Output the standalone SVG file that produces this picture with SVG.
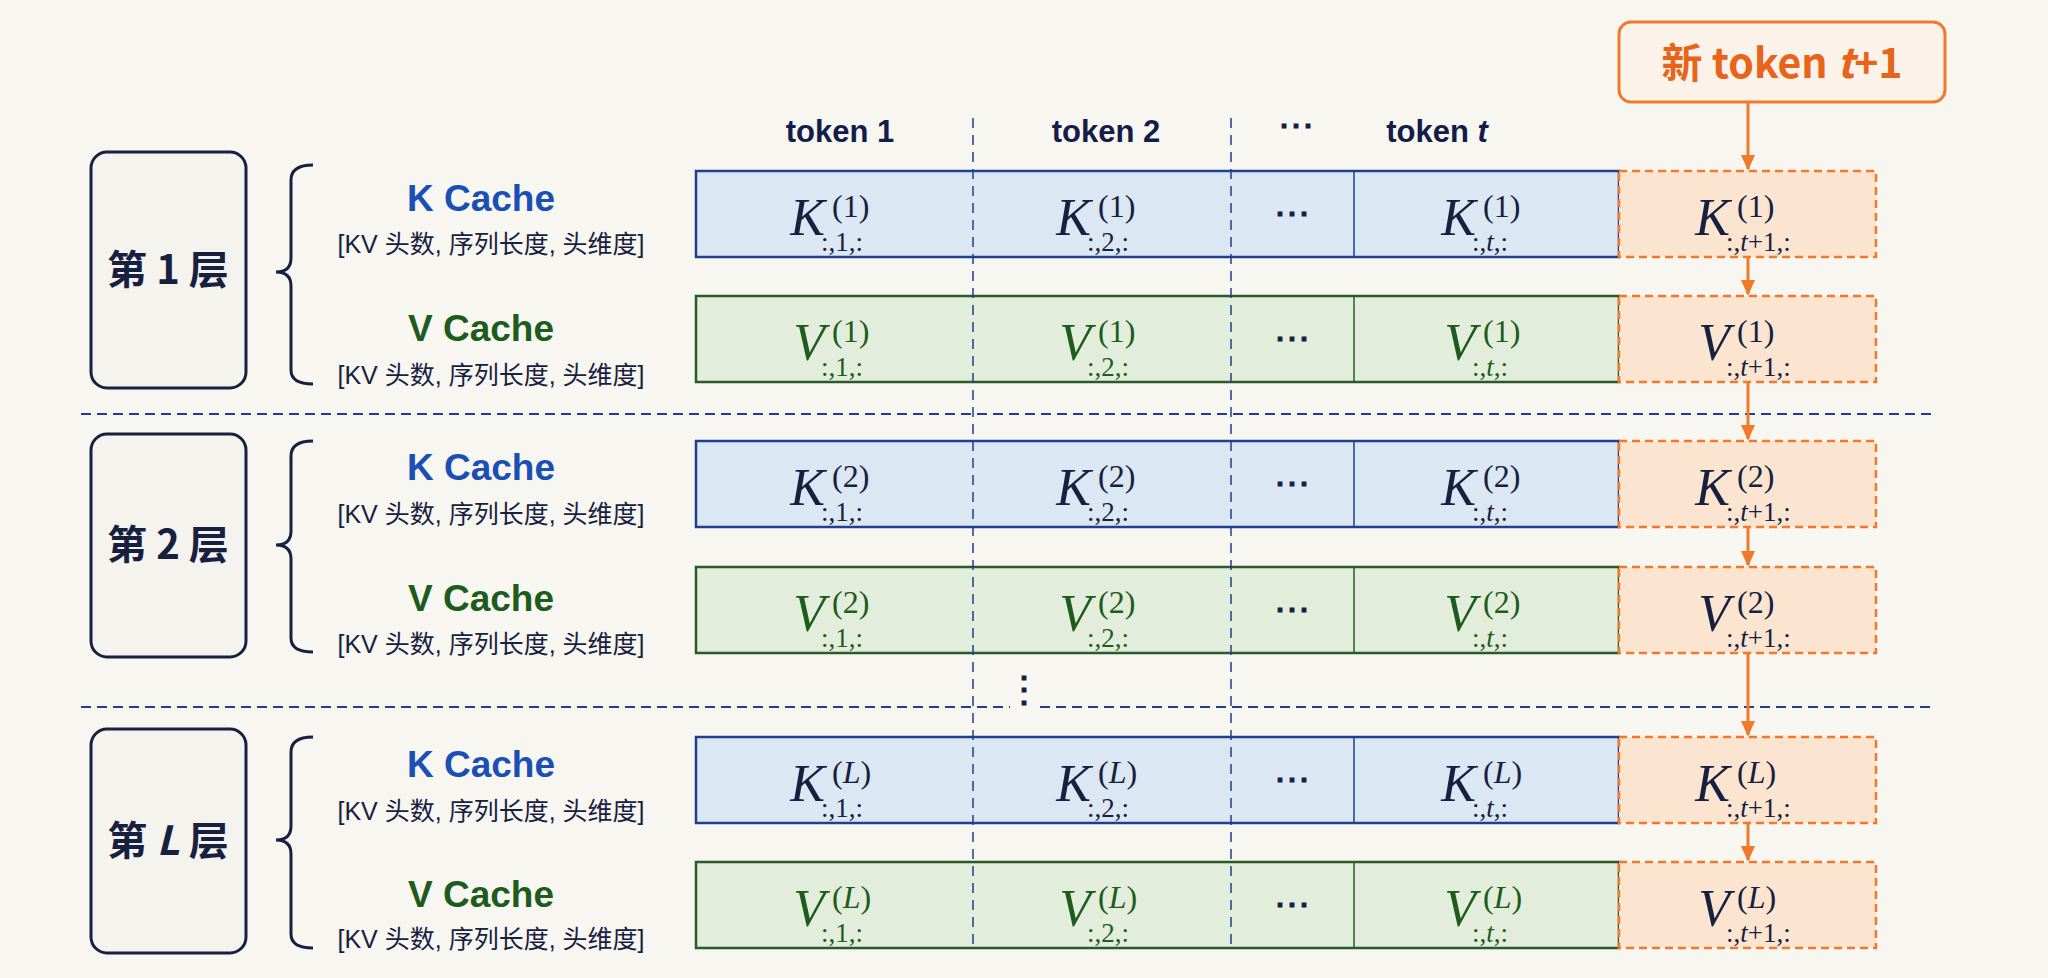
<svg xmlns="http://www.w3.org/2000/svg" width="2048" height="978" viewBox="0 0 2048 978">
<defs>
<style>
.bg{fill:#f8f6f1}
.layer{fill:#f5f3ee;stroke:#17213f;stroke-width:3}
.lt{font-family:"Noto Sans CJK SC","Liberation Sans",sans-serif;font-weight:700;font-size:40px;fill:#17213f;text-anchor:middle}
.brace{fill:none;stroke:#17213f;stroke-width:3}
.kc{font-family:"Liberation Sans",sans-serif;font-weight:700;font-size:37px;fill:#1a4fb4;text-anchor:middle}
.vc{font-family:"Liberation Sans",sans-serif;font-weight:700;font-size:37px;fill:#1e5c1e;text-anchor:middle}
.sub{font-family:"Liberation Sans","Noto Sans CJK SC",sans-serif;font-size:25px;fill:#17213f;text-anchor:middle}
.hd{font-family:"Liberation Sans",sans-serif;font-weight:700;font-size:31px;fill:#141c48;text-anchor:middle}
.krow{fill:#dce7f4;stroke:#1f3f8f;stroke-width:2.5}
.vrow{fill:#e3eddb;stroke:#2a5a2a;stroke-width:2.5}
.orow{fill:#fbe5d0;stroke:#f07a2a;stroke-width:2.5;stroke-dasharray:8 5}
.kdiv{stroke:#1f3f8f;stroke-width:1.5}
.vdiv{stroke:#2a5a2a;stroke-width:1.5}
.vdash{stroke:#1f3f8f;stroke-width:1.5;stroke-dasharray:10 7;fill:none}
.hdash{stroke:#1f3f8f;stroke-width:2;stroke-dasharray:10 6;fill:none}
.m{font-family:"Liberation Serif",serif;font-style:italic;font-size:52px}
.km{fill:#17213f}
.vm{fill:#1e5c1e}
.sp{font-family:"Liberation Serif",serif;font-size:32px}
.sb{font-family:"Liberation Serif",serif;font-size:27px}
.dots{font-family:"Liberation Serif",serif;font-size:36px;font-weight:700;fill:#17213f;text-anchor:middle}
.arr{stroke:#f07a2a;stroke-width:3;fill:none}
.new{fill:#fbf3ea;stroke:#f07a2a;stroke-width:3}
.nt{font-family:"Noto Sans CJK SC","Liberation Sans",sans-serif;font-weight:700;font-size:41px;fill:#e8641a;text-anchor:middle}
</style>
<marker id="ah" markerWidth="16" markerHeight="18" refX="16" refY="8" orient="auto" markerUnits="userSpaceOnUse" viewBox="0 0 18 16">
<path d="M0,0 L18,8 L0,16 z" fill="#f07a2a"/>
</marker>
</defs>
<rect class="bg" width="2048" height="978"/>

<g id="headers">
<text class="hd" x="840" y="142">token 1</text>
<text class="hd" x="1106" y="142">token 2</text>
<text class="dots" x="1296" y="138">⋯</text>
<text class="hd" x="1437" y="142">token <tspan font-style="italic">t</tspan></text>
</g>

<g id="new-token">
<rect class="new" x="1619" y="22" width="326" height="80" rx="12"/>
<text class="nt" x="1782" y="78">新 token <tspan font-style="italic">t</tspan>+1</text>
</g>

<g id="separators">
<line class="hdash" x1="81" y1="414" x2="1936" y2="414"/>
<line class="hdash" x1="81" y1="707" x2="1010" y2="707"/>
<line class="hdash" x1="1040" y1="707" x2="1936" y2="707"/>
<text class="dots" x="1024" y="702" font-size="44">⋮</text>
</g>

<g id="rows">
<rect class="krow" x="696" y="171" width="923" height="86"/>
<rect class="vrow" x="696" y="296" width="923" height="86"/>
<rect class="krow" x="696" y="441" width="923" height="86"/>
<rect class="vrow" x="696" y="567" width="923" height="86"/>
<rect class="krow" x="696" y="737" width="923" height="86"/>
<rect class="vrow" x="696" y="862" width="923" height="86"/>
<line class="kdiv" x1="1354" y1="171" x2="1354" y2="257"/>
<line class="vdiv" x1="1354" y1="296" x2="1354" y2="382"/>
<line class="kdiv" x1="1354" y1="441" x2="1354" y2="527"/>
<line class="vdiv" x1="1354" y1="567" x2="1354" y2="653"/>
<line class="kdiv" x1="1354" y1="737" x2="1354" y2="823"/>
<line class="vdiv" x1="1354" y1="862" x2="1354" y2="948"/>
<rect class="orow" x="1619" y="171" width="257" height="86"/>
<rect class="orow" x="1619" y="296" width="257" height="86"/>
<rect class="orow" x="1619" y="441" width="257" height="86"/>
<rect class="orow" x="1619" y="567" width="257" height="86"/>
<rect class="orow" x="1619" y="737" width="257" height="86"/>
<rect class="orow" x="1619" y="862" width="257" height="86"/>
<line class="vdash" x1="973" y1="118" x2="973" y2="948"/>
<line class="vdash" x1="1231" y1="118" x2="1231" y2="948"/>
</g>

<g id="layer1">
<rect class="layer" x="91" y="152" width="155" height="236" rx="16"/>
<text class="lt" x="168" y="284">第 1 层</text>
<path class="brace" d="M313 165 Q291 165 291 180 L291 258 Q291 272 276 272 Q291 272 291 286 L291 370 Q291 384 313 384"/>
<text class="kc" x="481" y="211">K Cache</text>
<text class="sub" x="491" y="253">[KV 头数, 序列长度, 头维度]</text>
<text class="vc" x="481" y="341">V Cache</text>
<text class="sub" x="491" y="384">[KV 头数, 序列长度, 头维度]</text>
</g>
<g id="layer2">
<rect class="layer" x="91" y="434" width="155" height="223" rx="16"/>
<text class="lt" x="168" y="559">第 2 层</text>
<path class="brace" d="M313 441 Q291 441 291 456 L291 531 Q291 545 276 545 Q291 545 291 559 L291 638 Q291 652 313 652"/>
<text class="kc" x="481" y="480">K Cache</text>
<text class="sub" x="491" y="523">[KV 头数, 序列长度, 头维度]</text>
<text class="vc" x="481" y="611">V Cache</text>
<text class="sub" x="491" y="653">[KV 头数, 序列长度, 头维度]</text>
</g>
<g id="layerL">
<rect class="layer" x="91" y="729" width="155" height="224" rx="16"/>
<text class="lt" x="168" y="855">第 <tspan font-style="italic">L</tspan> 层</text>
<path class="brace" d="M313 737 Q291 737 291 752 L291 826 Q291 840 276 840 Q291 840 291 854 L291 934 Q291 948 313 948"/>
<text class="kc" x="481" y="777">K Cache</text>
<text class="sub" x="491" y="820">[KV 头数, 序列长度, 头维度]</text>
<text class="vc" x="481" y="907">V Cache</text>
<text class="sub" x="491" y="948">[KV 头数, 序列长度, 头维度]</text>
</g>

<g id="cells1">
<g transform="translate(835,171)" class="km"><text class="m" x="-10" y="64" text-anchor="end">K</text><text class="sp" x="-3" y="46">(1)</text><text class="sb" x="-14" y="80">:,1,:</text></g>
<g transform="translate(1101,171)" class="km"><text class="m" x="-10" y="64" text-anchor="end">K</text><text class="sp" x="-3" y="46">(1)</text><text class="sb" x="-14" y="80">:,2,:</text></g>
<text class="dots" x="1292" y="226">⋯</text>
<g transform="translate(1486,171)" class="km"><text class="m" x="-10" y="64" text-anchor="end">K</text><text class="sp" x="-3" y="46">(1)</text><text class="sb" x="-14" y="80">:,<tspan font-style="italic">t</tspan>,:</text></g>
<g transform="translate(1747,171)" class="km"><text class="m" x="-17" y="64" text-anchor="end">K</text><text class="sp" x="-10" y="46">(1)</text><text class="sb" x="-21" y="80">:,<tspan font-style="italic">t</tspan>+1,:</text></g>

<g transform="translate(835,296)" class="vm"><text class="m" x="-10" y="64" text-anchor="end">V</text><text class="sp" x="-3" y="46">(1)</text><text class="sb" x="-14" y="80">:,1,:</text></g>
<g transform="translate(1101,296)" class="vm"><text class="m" x="-10" y="64" text-anchor="end">V</text><text class="sp" x="-3" y="46">(1)</text><text class="sb" x="-14" y="80">:,2,:</text></g>
<text class="dots" x="1292" y="351">⋯</text>
<g transform="translate(1486,296)" class="vm"><text class="m" x="-10" y="64" text-anchor="end">V</text><text class="sp" x="-3" y="46">(1)</text><text class="sb" x="-14" y="80">:,<tspan font-style="italic">t</tspan>,:</text></g>
<g transform="translate(1747,296)" class="km"><text class="m" x="-17" y="64" text-anchor="end">V</text><text class="sp" x="-10" y="46">(1)</text><text class="sb" x="-21" y="80">:,<tspan font-style="italic">t</tspan>+1,:</text></g>
</g>

<g id="cells2">
<g transform="translate(835,441)" class="km"><text class="m" x="-10" y="64" text-anchor="end">K</text><text class="sp" x="-3" y="46">(2)</text><text class="sb" x="-14" y="80">:,1,:</text></g>
<g transform="translate(1101,441)" class="km"><text class="m" x="-10" y="64" text-anchor="end">K</text><text class="sp" x="-3" y="46">(2)</text><text class="sb" x="-14" y="80">:,2,:</text></g>
<text class="dots" x="1292" y="496">⋯</text>
<g transform="translate(1486,441)" class="km"><text class="m" x="-10" y="64" text-anchor="end">K</text><text class="sp" x="-3" y="46">(2)</text><text class="sb" x="-14" y="80">:,<tspan font-style="italic">t</tspan>,:</text></g>
<g transform="translate(1747,441)" class="km"><text class="m" x="-17" y="64" text-anchor="end">K</text><text class="sp" x="-10" y="46">(2)</text><text class="sb" x="-21" y="80">:,<tspan font-style="italic">t</tspan>+1,:</text></g>

<g transform="translate(835,567)" class="vm"><text class="m" x="-10" y="64" text-anchor="end">V</text><text class="sp" x="-3" y="46">(2)</text><text class="sb" x="-14" y="80">:,1,:</text></g>
<g transform="translate(1101,567)" class="vm"><text class="m" x="-10" y="64" text-anchor="end">V</text><text class="sp" x="-3" y="46">(2)</text><text class="sb" x="-14" y="80">:,2,:</text></g>
<text class="dots" x="1292" y="622">⋯</text>
<g transform="translate(1486,567)" class="vm"><text class="m" x="-10" y="64" text-anchor="end">V</text><text class="sp" x="-3" y="46">(2)</text><text class="sb" x="-14" y="80">:,<tspan font-style="italic">t</tspan>,:</text></g>
<g transform="translate(1747,567)" class="km"><text class="m" x="-17" y="64" text-anchor="end">V</text><text class="sp" x="-10" y="46">(2)</text><text class="sb" x="-21" y="80">:,<tspan font-style="italic">t</tspan>+1,:</text></g>
</g>

<g id="cellsL">
<g transform="translate(835,737)" class="km"><text class="m" x="-10" y="64" text-anchor="end">K</text><text class="sp" x="-3" y="46">(<tspan font-style="italic">L</tspan>)</text><text class="sb" x="-14" y="80">:,1,:</text></g>
<g transform="translate(1101,737)" class="km"><text class="m" x="-10" y="64" text-anchor="end">K</text><text class="sp" x="-3" y="46">(<tspan font-style="italic">L</tspan>)</text><text class="sb" x="-14" y="80">:,2,:</text></g>
<text class="dots" x="1292" y="792">⋯</text>
<g transform="translate(1486,737)" class="km"><text class="m" x="-10" y="64" text-anchor="end">K</text><text class="sp" x="-3" y="46">(<tspan font-style="italic">L</tspan>)</text><text class="sb" x="-14" y="80">:,<tspan font-style="italic">t</tspan>,:</text></g>
<g transform="translate(1747,737)" class="km"><text class="m" x="-17" y="64" text-anchor="end">K</text><text class="sp" x="-10" y="46">(<tspan font-style="italic">L</tspan>)</text><text class="sb" x="-21" y="80">:,<tspan font-style="italic">t</tspan>+1,:</text></g>

<g transform="translate(835,862)" class="vm"><text class="m" x="-10" y="64" text-anchor="end">V</text><text class="sp" x="-3" y="46">(<tspan font-style="italic">L</tspan>)</text><text class="sb" x="-14" y="80">:,1,:</text></g>
<g transform="translate(1101,862)" class="vm"><text class="m" x="-10" y="64" text-anchor="end">V</text><text class="sp" x="-3" y="46">(<tspan font-style="italic">L</tspan>)</text><text class="sb" x="-14" y="80">:,2,:</text></g>
<text class="dots" x="1292" y="917">⋯</text>
<g transform="translate(1486,862)" class="vm"><text class="m" x="-10" y="64" text-anchor="end">V</text><text class="sp" x="-3" y="46">(<tspan font-style="italic">L</tspan>)</text><text class="sb" x="-14" y="80">:,<tspan font-style="italic">t</tspan>,:</text></g>
<g transform="translate(1747,862)" class="km"><text class="m" x="-17" y="64" text-anchor="end">V</text><text class="sp" x="-10" y="46">(<tspan font-style="italic">L</tspan>)</text><text class="sb" x="-21" y="80">:,<tspan font-style="italic">t</tspan>+1,:</text></g>
</g>

<g id="connectors">
<line class="arr" x1="1748" y1="102" x2="1748" y2="169" marker-end="url(#ah)"/>
<line class="arr" x1="1748" y1="257" x2="1748" y2="294" marker-end="url(#ah)"/>
<line class="arr" x1="1748" y1="382" x2="1748" y2="439" marker-end="url(#ah)"/>
<line class="arr" x1="1748" y1="527" x2="1748" y2="565" marker-end="url(#ah)"/>
<line class="arr" x1="1748" y1="653" x2="1748" y2="735" marker-end="url(#ah)"/>
<line class="arr" x1="1748" y1="823" x2="1748" y2="860" marker-end="url(#ah)"/>
</g>
</svg>
